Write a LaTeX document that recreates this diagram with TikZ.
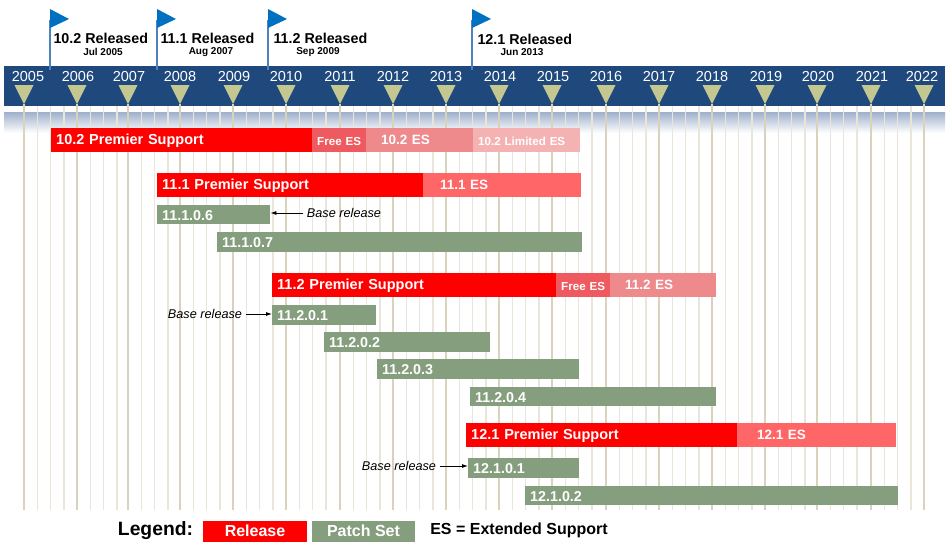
\documentclass[tikz,border=0pt]{standalone}
\usepackage{fontspec}
\setmainfont{Liberation Sans}
\usetikzlibrary{calc,arrows.meta}
\definecolor{bandblue}{HTML}{1F497D}
\definecolor{fadeblue}{HTML}{9FB0CB}
\definecolor{flagblue}{HTML}{0070C0}
\definecolor{poleblue}{HTML}{4F81BD}
\definecolor{marker}{HTML}{C4C78F}
\definecolor{majorline}{HTML}{D9D3BD}
\definecolor{minorline}{HTML}{E9E5D9}
\definecolor{patchgreen}{HTML}{859E7D}
\definecolor{freeES}{HTML}{EE5A5F}
\definecolor{oldES}{HTML}{EE8A8C}
\definecolor{limitES}{HTML}{F4B2B3}
\definecolor{newES}{HTML}{FF6667}
\tikzset{
  barbox/.style={anchor=north west, inner ysep=0pt, inner xsep=#1, align=left, text=white, font=\bfseries\fontsize{13.5}{14}\selectfont, text height=12pt, text depth=3pt},
  barbox/.default=5pt,
  size/.style n args={3}{text width=#1pt-2*#3pt, minimum height=#2pt, barbox=#3pt},
  premier/.style={fill=red, font=\bfseries\fontsize{14.5}{15}\selectfont},
  patchset/.style={fill=patchgreen, font=\bfseries\fontsize{14.3}{15}\selectfont, text height=14pt},
  smalles/.style={font=\bfseries\fontsize{11.6}{13}\selectfont, text height=13pt},
  basetext/.style={font=\itshape\fontsize{12.7}{13}\selectfont},
  basearrow/.style={-{Latex[length=6pt,width=4pt]}, thick},
  released/.style={anchor=west, font=\bfseries\fontsize{14.3}{15}\selectfont},
  datetext/.style={font=\bfseries\fontsize{10}{11}\selectfont},
  yeartext/.style={text=white, font=\fontsize{14.5}{15}\selectfont},
  legendbox/.style={minimum height=21pt, inner sep=0pt, text=white, font=\bfseries\fontsize{16}{17}\selectfont, text height=13pt, text depth=3pt}
}
\begin{document}
\begin{tikzpicture}[x=1pt,y=-1pt]
        \useasboundingbox (0,0) rectangle (951,555);

        % Шапка
        \fill[bandblue] (4,66) rectangle (945,106);
        \shade[top color=fadeblue, bottom color=white] (4,112) rectangle (945,133);

        % Вертикальні лінії
        \foreach \x in {24,77,128,180,233,286,340,393,446,499,552,606,659,712,765,817,871}
          \foreach \k in {1,2,3}
            \draw[minorline, line width=1.5pt] ($(\x,106)+(\k*13.3,0)$) -- ($(\x,510)+(\k*13.3,0)$);
        \foreach \x/\lx/\yr in {24/28/2005,77/78/2006,128/129/2007,180/180/2008,233/234/2009,286/286/2010,340/340/2011,393/393/2012,446/446/2013,499/500/2014,552/553/2015,606/606/2016,659/659/2017,712/712/2018,765/766/2019,817/818/2020,871/872/2021,924/922/2022} {
          \draw[majorline, line width=1.6pt] (\x,104) -- (\x,510);
          \fill[marker] (\x-9.5,85) -- (\x+9.5,85) -- (\x,104) -- cycle;
          \node[yeartext] (y\yr) at (\lx,77) {\yr};
        }

        % Прапорці випусків
        \foreach \x in {50,157,268,472} {
          \draw[poleblue, line width=1.5pt] (\x,20) -- (\x,70);
          \fill[flagblue] (\x,9) -- (\x+19,19) -- (\x,28) -- cycle;
        }
        \node[released] (r102) at (50,38) {10.2 Released};
        \node[released] (r111) at (157,38) {11.1 Released};
        \node[released] (r112) at (270,38) {11.2 Released};
        \node[released] (r121) at (474,39) {12.1 Released};
        \node[datetext] (d102) at (103,52) {Jul 2005};
        \node[datetext] (d111) at (211,52) {Aug 2007};
        \node[datetext] (d112) at (318,52) {Sep 2009};
        \node[datetext] (d121) at (522,52) {Jun 2013};

        % Випуск 10.2
        \node[size={107}{24}{5}, fill=limitES, smalles] (l102) at (473,128) {10.2 Limited ES};
        \node[size={107}{24}{15}, fill=oldES] (e102) at (366,128) {10.2 ES};
        \node[size={54}{24}{5}, fill=freeES, smalles] (f102) at (312,128) {\mbox{Free ES}};
        \node[size={261}{24}{5}, premier] (p102) at (51,128) {10.2 Premier Support};

        % Випуск 11.1
        \node[size={158}{24}{17}, fill=newES] (e111) at (423,173) {11.1 ES};
        \node[size={266}{24}{5}, premier] (p111) at (157,173) {11.1 Premier Support};
        \node[size={113}{19}{5}, patchset] (s1106) at (157,205) {11.1.0.6};
        \node[size={365}{20}{5}, patchset] (s1107) at (217,232) {11.1.0.7};
        \node[basetext] (b1106) at (344,213) {Base release};
        \draw[basearrow] (b1106.west) -- (b1106.west -| s1106.east);

        % Випуск 11.2
        \node[size={106}{24}{15}, fill=oldES] (e112) at (610,273) {11.2 ES};
        \node[size={54}{24}{5}, fill=freeES, smalles] (f112) at (556,273) {\mbox{Free ES}};
        \node[size={284}{24}{5}, premier] (p112) at (272,273) {11.2 Premier Support};
        \node[size={104}{20}{5}, patchset] (s1201) at (272,305) {11.2.0.1};
        \node[size={166}{20}{5}, patchset] (s1202) at (324,332) {11.2.0.2};
        \node[size={202}{20}{5}, patchset] (s1203) at (377,359) {11.2.0.3};
        \node[size={246}{19}{5}, patchset] (s1204) at (470,387) {11.2.0.4};
        \node[basetext] (b1201) at (205,314) {Base release};
        \draw[basearrow] (b1201.east) -- (b1201.east -| s1201.west);

        % Випуск 12.1
        \node[size={159}{24}{20}, fill=newES] (e121) at (737,423) {12.1 ES};
        \node[size={271}{24}{5}, premier] (p121) at (466,423) {12.1 Premier Support};
        \node[size={111}{20}{5}, patchset] (s2101) at (468,458) {12.1.0.1};
        \node[size={373}{19}{5}, patchset] (s2102) at (525,486) {12.1.0.2};
        \node[basetext] (b2101) at (399,466) {Base release};
        \draw[basearrow] (b2101.east) -- (b2101.east -| s2101.west);

        % Легенда
        \node[font=\bfseries\fontsize{19.3}{20}\selectfont] (legend) at (155.5,531) {Legend:};
        \node[legendbox, fill=red, minimum width=104pt] (lrel) at (255,531.5) {Release};
        \node[legendbox, fill=patchgreen, minimum width=103pt] (lpat) at (363.5,531.5) {Patch Set};
        \node[font=\bfseries\fontsize{16}{17}\selectfont] (lnote) at (519,530) {ES = Extended Support};
\end{tikzpicture}
\end{document}
